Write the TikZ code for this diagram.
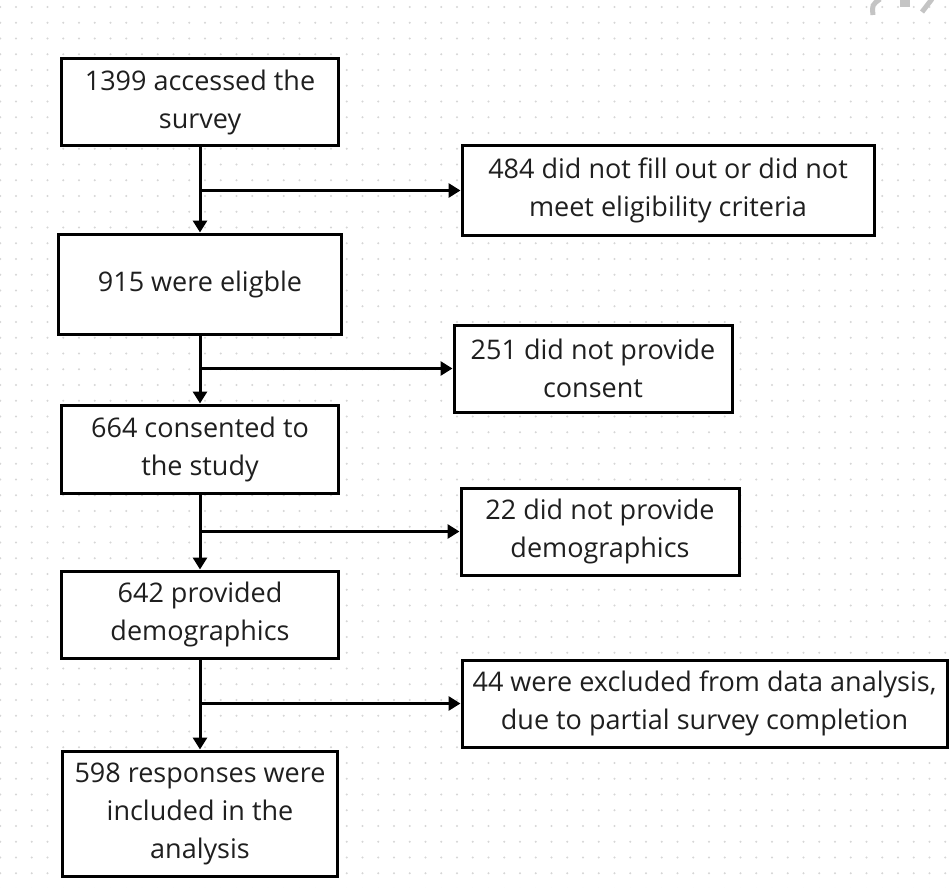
\documentclass[tikz,border=0pt]{standalone}
\usepackage{fontspec}
\setmainfont{Open Sans}
\usetikzlibrary{arrows.meta}
\definecolor{dotc}{HTML}{D6D6D6}
\definecolor{iconc}{HTML}{C4C4C4}
\definecolor{txtc}{HTML}{1F1F1F}
\tikzset{
  box/.style={draw=black, line width=3pt, fill=white, align=center, inner sep=0pt,
    text=txtc, font=\fontsize{27}{38}\selectfont},
  arr/.style={line width=3pt, -{Triangle[width=14pt,length=12pt]}},
  plain/.style={line width=3pt}
}
\begin{document}
\begin{tikzpicture}[x=1pt,y=-1pt]
\useasboundingbox (0,0) rectangle (951,888);
\fill[white] (0,0) rectangle (951,888);
\foreach \i in {0,...,60}{
  \foreach \j in {0,...,56}{
    \fill[dotc] ({0.3+15.75*\i},{7+15.75*\j}) circle (1.1);
  }
}
% faint cropped icon at top right
\draw[iconc, line width=5pt] (880,-1) .. controls (872,5) .. (873,15);
\fill[iconc] (900,0) rectangle (910,7);
\draw[iconc, line width=5pt] (932,-1) -- (922,12);

\node[box, minimum width=277pt, minimum height=87pt] (b1) at (200,102.5) {1399 accessed the\\survey};
\node[box, minimum width=412pt, minimum height=89pt] (b2) at (668,190.5) {484 did not fill out or did not\\meet eligibility criteria};
\node[box, minimum width=283pt, minimum height=100pt] (b3) at (200,284) {915 were eligble};
\node[box, minimum width=278pt, minimum height=87pt] (b4) at (593,368.5) {251 did not provide\\consent};
\node[box, minimum width=277pt, minimum height=88pt] (b5) at (200,449) {664 consented to\\the study};
\node[box, minimum width=278pt, minimum height=87pt] (b6) at (600,531.5) {22 did not provide\\demographics};
\node[box, minimum width=277pt, minimum height=87pt] (b7) at (200,614.5) {642 provided\\demographics};
\node[box, minimum width=485pt, minimum height=87pt] (b8) at (704.5,703.5) {44 were excluded from data analysis,\\due to partial survey completion};
\node[box, minimum width=275pt, minimum height=125pt] (b9) at (200,813.5) {598 responses were\\included in the\\analysis};

\draw[arr] (b1.south) -- (b3.north);
\draw[arr] (b3.south) -- (b5.north);
\draw[arr] (b5.south) -- (b7.north);
\draw[arr] (b7.south) -- (b9.north);

\draw[arr] (b1.south |- b2.west) -- (b2.west);
\draw[arr] (b3.south |- b4.west) -- (b4.west);
\draw[arr] (b5.south |- b6.west) -- (b6.west);
\draw[arr] (b7.south |- b8.west) -- (b8.west);
\end{tikzpicture}
\end{document}
